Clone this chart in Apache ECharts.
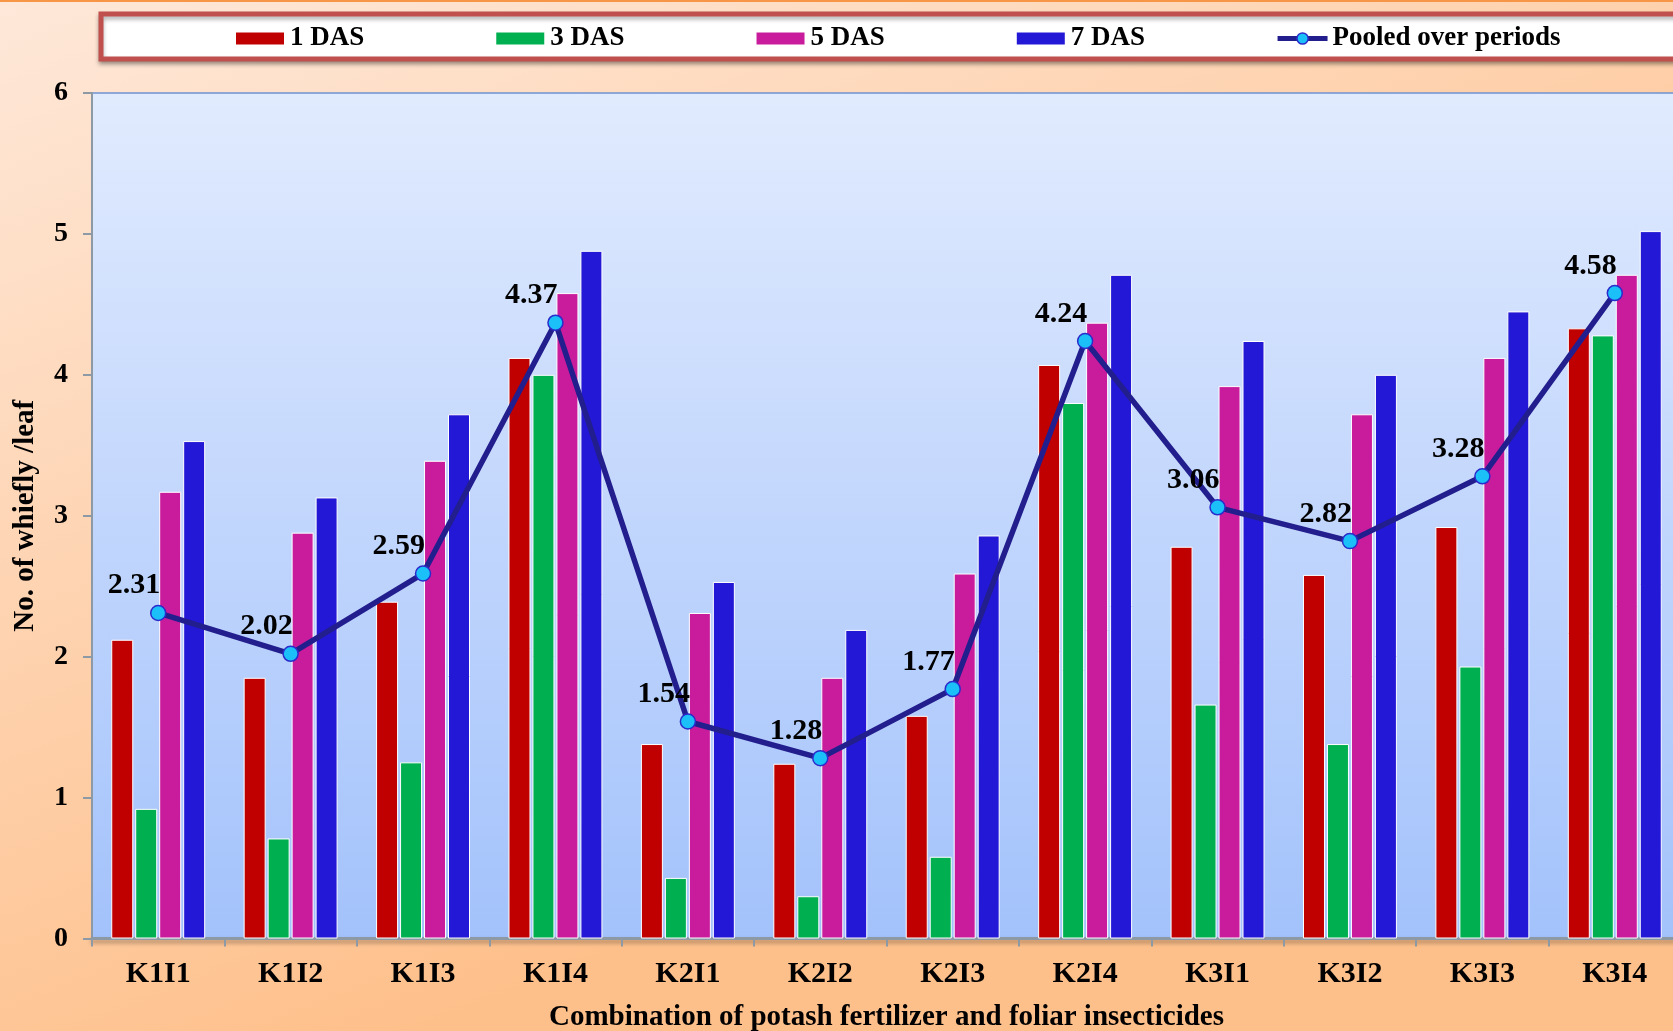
<!DOCTYPE html>
<html>
<head>
<meta charset="utf-8">
<title>Whitefly population under potash and foliar insecticide combinations</title>
<script src="https://cdn.jsdelivr.net/npm/echarts@6/dist/echarts.min.js"></script>
<style>
  html, body { margin: 0; padding: 0; }
  #chart { width: 1673px; height: 1031px; }
</style>
</head>
<body>
<div id="chart"></div>
<script>
// Treatment combinations (potash level K x insecticide I)
const categories = ['K1I1', 'K1I2', 'K1I3', 'K1I4', 'K2I1', 'K2I2', 'K2I3', 'K2I4', 'K3I1', 'K3I2', 'K3I3', 'K3I4'];

// Whitefly count per leaf at each observation (days after spraying)
const das1 = [2.12, 1.85, 2.39, 4.12, 1.38, 1.24, 1.58, 4.07, 2.78, 2.58, 2.92, 4.33];
const das3 = [0.92, 0.71, 1.25, 4.00, 0.43, 0.30, 0.58, 3.80, 1.66, 1.38, 1.93, 4.28];
const das5 = [3.17, 2.88, 3.39, 4.58, 2.31, 1.85, 2.59, 4.37, 3.92, 3.72, 4.12, 4.71];
const das7 = [3.53, 3.13, 3.72, 4.88, 2.53, 2.19, 2.86, 4.71, 4.24, 4.00, 4.45, 5.02];

// Pooled mean over the periods
const pooled = [2.31, 2.02, 2.59, 4.37, 1.54, 1.28, 1.77, 4.24, 3.06, 2.82, 3.28, 4.58];

const seriesNames = ['1 DAS', '3 DAS', '5 DAS', '7 DAS', 'Pooled over periods'];
const yTicks = [0, 1, 2, 3, 4, 5, 6];

const FONT = "'Liberation Serif', 'Times New Roman', serif";
const barColors = ['#C00000', '#00B050', '#C81C9C', '#2318D6'];
const lineColor = '#231E8E';
const markerFill = '#1CC0F8';
const markerEdge = '#2B2BCB';

const chart = echarts.init(document.getElementById('chart'), null, { renderer: 'canvas' });

function barSeries(name, data, color) {
  return {
    name: name,
    type: 'bar',
    data: data,
    barWidth: 22,
    barGap: '9%',
    barCategoryGap: '27%',
    itemStyle: { color: color, borderColor: '#ffffff', borderWidth: 1 },
    z: 2
  };
}

const legendItems = seriesNames.map((n, i) => i < 4
  ? { name: n, icon: 'rect' }
  : { name: n, lineStyle: { width: 5, color: lineColor },
      itemStyle: { color: markerFill, borderColor: markerEdge, borderWidth: 1.5 } });

const option = {
  animation: false,
  backgroundColor: {
    type: 'linear', x: 0, y: 0, x2: 0.25, y2: 1,
    colorStops: [
      { offset: 0, color: '#FEE8D9' },
      { offset: 1, color: '#FEC08B' }
    ]
  },
  textStyle: { fontFamily: FONT },
  graphic: [
    {
      type: 'rect',
      shape: { x: 0, y: 0, width: 1673, height: 2 },
      style: { fill: '#F79646' },
      z: 0
    },
    {
      type: 'rect',
      shape: { x: 101, y: 14, width: 1620, height: 45 },
      style: {
        fill: '#ffffff', stroke: '#C0504D', lineWidth: 5,
        shadowColor: 'rgba(0,0,0,0.3)', shadowBlur: 4, shadowOffsetY: 3
      },
      z: 0
    }
  ],
  legend: {
    data: legendItems,
    left: 229,
    top: 20,
    itemWidth: 50,
    itemHeight: 14,
    itemGap: 130,
    textStyle: { fontFamily: FONT, fontWeight: 'bold', fontSize: 27, color: '#000' },
    z: 5
  },
  grid: {
    left: 92,
    top: 93,
    width: 1589,
    height: 845.5,
    outerBoundsMode: 'none',
    containLabel: false,
    show: true,
    backgroundColor: {
      type: 'linear', x: 0, y: 0, x2: 0, y2: 1,
      colorStops: [
        { offset: 0, color: '#E1EBFE' },
        { offset: 1, color: '#A3C2FB' }
      ]
    },
    borderColor: '#6F93D2',
    borderWidth: 1.5
  },
  xAxis: {
    type: 'category',
    data: categories,
    name: 'Combination of potash fertilizer and foliar insecticides',
    nameLocation: 'middle',
    nameGap: 65,
    nameTextStyle: { fontFamily: FONT, fontWeight: 'bold', fontSize: 29, color: '#000' },
    axisLine: {
      lineStyle: {
        color: '#8E99A6', width: 3,
        shadowColor: 'rgba(0,0,0,0.35)', shadowBlur: 4, shadowOffsetY: 3
      }
    },
    axisTick: { show: true, length: 8, lineStyle: { color: '#8E99A6', width: 2 } },
    axisLabel: { fontFamily: FONT, fontWeight: 'bold', fontSize: 30, color: '#000', margin: 21 },
    splitLine: { show: false }
  },
  yAxis: {
    type: 'value',
    min: yTicks[0],
    max: yTicks[yTicks.length - 1],
    interval: 1,
    name: 'No. of whiefly /leaf',
    nameLocation: 'middle',
    nameGap: 52,
    nameTextStyle: { fontFamily: FONT, fontWeight: 'bold', fontSize: 29, color: '#000' },
    axisLine: { show: true, lineStyle: { color: '#8E99A6', width: 2 } },
    axisTick: { show: true, length: 9, lineStyle: { color: '#8E99A6', width: 2 } },
    axisLabel: { fontFamily: FONT, fontWeight: 'bold', fontSize: 28, color: '#000', margin: 24 },
    splitLine: { show: false }
  },
  series: [
    barSeries(seriesNames[0], das1, barColors[0]),
    barSeries(seriesNames[1], das3, barColors[1]),
    barSeries(seriesNames[2], das5, barColors[2]),
    barSeries(seriesNames[3], das7, barColors[3]),
    {
      name: seriesNames[4],
      type: 'line',
      data: pooled,
      symbol: 'circle',
      symbolSize: 15,
      lineStyle: { color: lineColor, width: 5.5 },
      itemStyle: { color: markerFill, borderColor: markerEdge, borderWidth: 1.5 },
      label: {
        show: true,
        position: 'top',
        distance: 4,
        align: 'right',
        offset: [2, 0],
        formatter: p => p.value.toFixed(2),
        fontFamily: FONT,
        fontWeight: 'bold',
        fontSize: 30,
        color: '#000'
      },
      z: 4
    }
  ]
};

chart.setOption(option);
</script>
</body>
</html>
